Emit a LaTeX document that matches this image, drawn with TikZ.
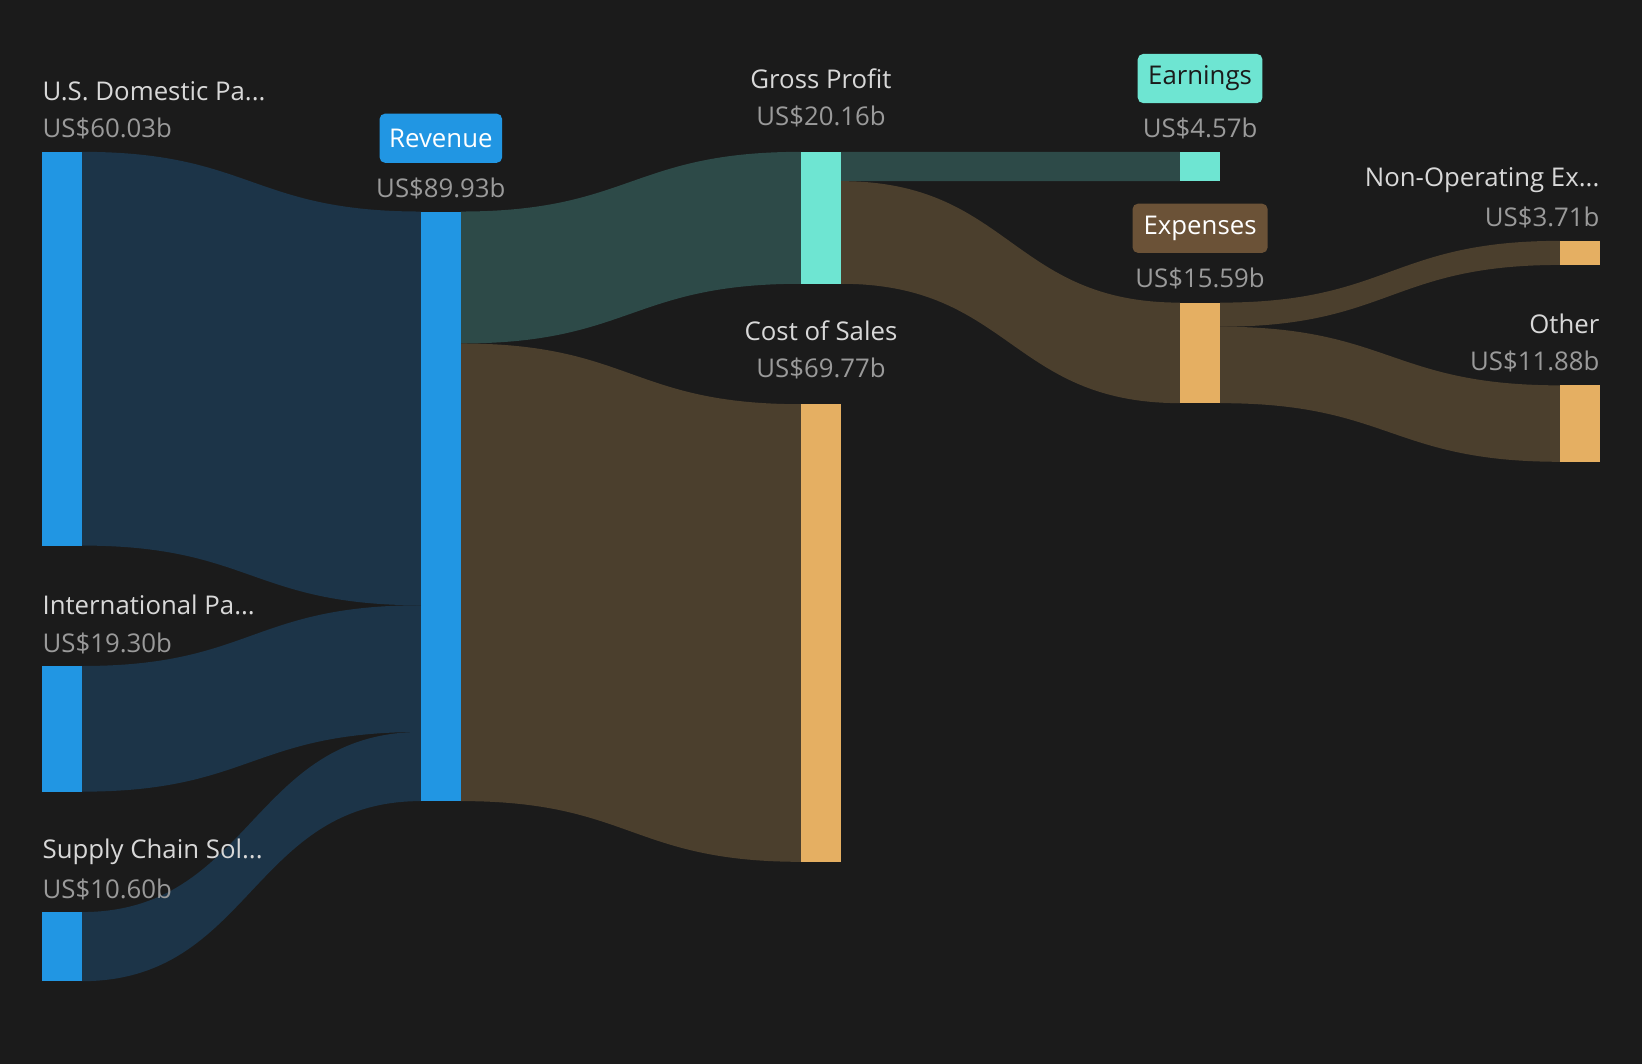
\documentclass[tikz,border=0pt]{standalone}
\usepackage{fontspec}
\setmainfont{Open Sans}
\definecolor{bg}{HTML}{1B1B1B}
\definecolor{blu}{HTML}{2196E3}
\definecolor{bluf}{HTML}{1C3448}
\definecolor{tea}{HTML}{6EE5D2}
\definecolor{teaf}{HTML}{2D4A48}
\definecolor{ora}{HTML}{E5AF62}
\definecolor{braf}{HTML}{4B3F2D}
\definecolor{brp}{HTML}{6B5237}
\definecolor{nm}{HTML}{D8D8D8}
\definecolor{vl}{HTML}{9A9A9A}
\newcommand\skflow[7]{\fill[#7] (#1,#3) .. controls ({(#1+#2)/2},#3) and ({(#1+#2)/2},#5) .. (#2,#5) -- (#2,#6) .. controls ({(#1+#2)/2},#6) and ({(#1+#2)/2},#4) .. (#1,#4) -- cycle;}
\begin{document}
\begin{tikzpicture}[x=0.01cm,y=-0.01cm,
 nm/.style={text=nm,font=\fontsize{7}{8}\selectfont,inner sep=0},
 vl/.style={text=vl,font=\fontsize{7}{8}\selectfont,inner sep=0},
 pill/.style={rounded corners=1.5pt,font=\fontsize{7}{8}\selectfont,inner sep=0,minimum height=0.47cm,anchor=center}]
\fill[bg] (0,0) rectangle (1568,1016);
\useasboundingbox (0,0) rectangle (1568,1016);
% flows
\skflow{78}{402}{145}{521}{202}{578}{bluf}
\skflow{78}{402}{636}{756}{578}{699}{bluf}
\skflow{78}{402}{871}{937}{699}{765}{bluf}
\skflow{440}{765}{202}{328}{145}{271}{teaf}
\skflow{440}{765}{328}{765}{386}{823}{braf}
\skflow{803}{1127}{145}{173}{145}{173}{teaf}
\skflow{803}{1127}{173}{271}{289}{385}{braf}
\skflow{1165}{1490}{289}{312}{230}{253}{braf}
\skflow{1165}{1490}{312}{385}{368}{441}{braf}
% bars
\fill[blu] (40,145) rectangle (78,521);
\fill[blu] (40,636) rectangle (78,756);
\fill[blu] (40,871) rectangle (78,937);
\fill[blu] (402,202) rectangle (440,765);
\fill[tea] (765,145) rectangle (803,271);
\fill[ora] (765,386) rectangle (803,823);
\fill[tea] (1127,145) rectangle (1165,173);
\fill[ora] (1127,289) rectangle (1165,385);
\fill[ora] (1490,230) rectangle (1528,253);
\fill[ora] (1490,368) rectangle (1528,441);
% labels
\node[nm,anchor=west] (l1) at (40,87) {U.S. Domestic Pa...};
\node[vl,anchor=west] (v1) at (40,123) {US\$60.03b};
\node[nm,anchor=west] (l2) at (40,578) {International Pa...};
\node[vl,anchor=west] (v2) at (40,614) {US\$19.30b};
\node[nm,anchor=west] (l3) at (40,813) {Supply Chain Sol...};
\node[vl,anchor=west] (v3) at (40,849) {US\$10.60b};
\node[pill,fill=blu,text=white,minimum width=1.17cm] (l4) at (421,132) {Revenue};
\node[vl] (v4) at (421,180) {US\$89.93b};
\node[nm] (l5) at (784,75) {Gross Profit};
\node[vl] (v5) at (784,111) {US\$20.16b};
\node[nm] (l6) at (784,316) {Cost of Sales};
\node[vl] (v6) at (784,352) {US\$69.77b};
\node[pill,fill=tea,text=bg,minimum width=1.19cm] (l7) at (1146,75) {Earnings};
\node[vl] (v7) at (1146,123) {US\$4.57b};
\node[pill,fill=brp,text=white,minimum width=1.29cm] (l8) at (1146,218) {Expenses};
\node[vl] (v8) at (1146,266) {US\$15.59b};
\node[nm,anchor=east] (l9) at (1528,172) {Non-Operating Ex...};
\node[vl,anchor=east] (v9) at (1528,208) {US\$3.71b};
\node[nm,anchor=east] (l10) at (1528,309) {Other};
\node[vl,anchor=east] (v10) at (1528,345) {US\$11.88b};
\end{tikzpicture}
\end{document}
